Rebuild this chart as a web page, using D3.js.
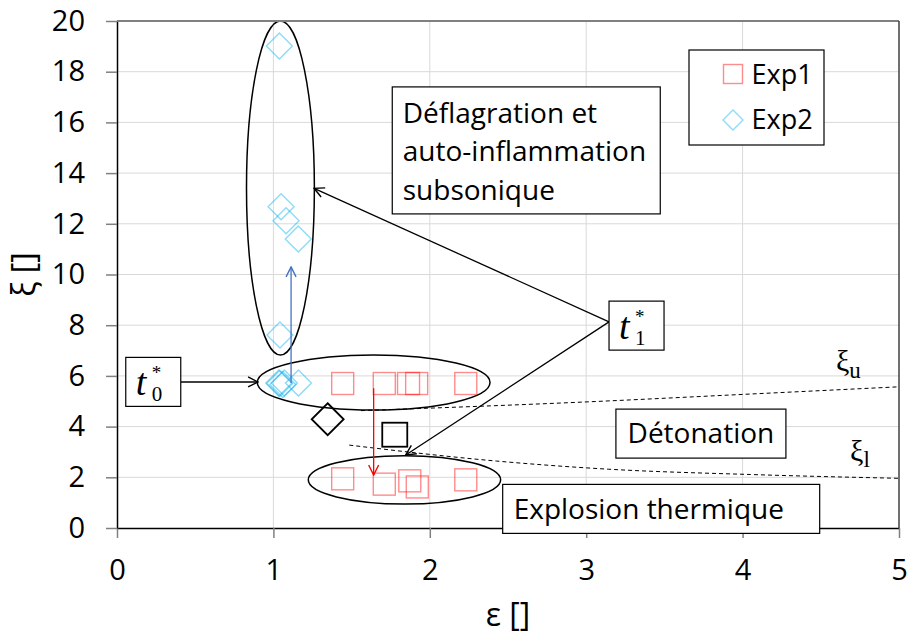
<!DOCTYPE html>
<html>
<head>
<meta charset="utf-8">
<script src="https://cdn.jsdelivr.net/npm/d3@7"></script>
<style>
  body { margin: 0; background: #fff; }
  svg { display: block; }
  text { font-family: "Open Sans", "Noto Sans", sans-serif; }
</style>
</head>
<body>
<svg id="chart" width="909" height="637"></svg>
<script>
// Axis ticks
const xTicks = [0, 1, 2, 3, 4, 5];
const yTicks = [0, 2, 4, 6, 8, 10, 12, 14, 16, 18, 20];

// Exp1 measurements (epsilon, xi)
const exp1Eps = [1.443, 1.709, 1.864, 1.916, 2.230, 1.443, 1.709, 1.872, 1.920, 2.230];
const exp1Xi  = [5.70, 5.70, 5.70, 5.70, 5.70, 1.94, 1.73, 1.86, 1.62, 1.90];

// Exp2 measurements (epsilon, xi)
const exp2Eps = [1.038, 1.049, 1.081, 1.159, 1.042, 1.035, 1.040, 1.060, 1.070, 1.160];
const exp2Xi  = [19.01, 12.67, 12.12, 11.40, 7.61, 5.72, 5.70, 5.66, 5.72, 5.72];

// Single reference markers
const refDiamondEps = [1.347], refDiamondXi = [4.29];
const refSquareEps  = [1.776], refSquareXi  = [3.68];

// Limit curves xi_u and xi_l
const xiUpperEps = [1.56, 3.024, 4.0, 5.0];
const xiUpperVal = [4.63, 4.98, 5.27, 5.57];
const xiLowerEps = [1.485, 2.428, 3.141, 4.05, 5.0];
const xiLowerVal = [3.27, 2.64, 2.32, 2.11, 1.96];

const x = d3.scaleLinear().domain([0, 5]).range([117, 899]);
const y = d3.scaleLinear().domain([0, 20]).range([528, 21]);

const svg = d3.select("#chart");
const defs = svg.append("defs");

function arrowMarker(id, color) {
  defs.append("marker")
    .attr("id", id)
    .attr("viewBox", "0 0 12 12")
    .attr("refX", 11).attr("refY", 6)
    .attr("markerWidth", 12).attr("markerHeight", 12)
    .attr("markerUnits", "userSpaceOnUse")
    .attr("orient", "auto")
    .append("path")
    .attr("d", "M1,1 L11,6 L1,11")
    .attr("fill", "none")
    .attr("stroke", color)
    .attr("stroke-width", 1.4);
}
arrowMarker("arrBlack", "#000");
arrowMarker("arrBlue", "#4472c4");
arrowMarker("arrRed", "#ff0000");

// Gridlines
const grid = svg.append("g");
grid.selectAll("line.h").data(yTicks.filter(d => d > 0 && d < 20)).join("line")
  .attr("x1", x(0)).attr("x2", x(5))
  .attr("y1", d => y(d)).attr("y2", d => y(d))
  .attr("stroke", "#d9d9d9").attr("stroke-width", 1);
grid.selectAll("line.v").data(xTicks.filter(d => d > 0 && d < 5)).join("line")
  .attr("x1", d => x(d)).attr("x2", d => x(d))
  .attr("y1", y(0)).attr("y2", y(20))
  .attr("stroke", "#d9d9d9").attr("stroke-width", 1);

// Limit curves
const limitLine = d3.line().x(d => x(d[0])).y(d => y(d[1])).curve(d3.curveMonotoneX);
svg.append("path")
  .attr("d", limitLine(d3.zip(xiUpperEps, xiUpperVal)))
  .attr("fill", "none").attr("stroke", "#000").attr("stroke-width", 1)
  .attr("stroke-dasharray", "4,3");
svg.append("path")
  .attr("d", limitLine(d3.zip(xiLowerEps, xiLowerVal)))
  .attr("fill", "none").attr("stroke", "#000").attr("stroke-width", 1)
  .attr("stroke-dasharray", "4,3");

// Regime ellipses (centre and radii in data units)
const ellipses = [
  { cx: 1.045, cy: 13.41, rx: 0.217, ry: 6.59 },
  { cx: 1.641, cy: 5.74, rx: 0.744, ry: 1.085 },
  { cx: 1.838, cy: 1.90, rx: 0.615, ry: 0.955 }
];
svg.append("g").selectAll("ellipse").data(ellipses).join("ellipse")
  .attr("cx", d => x(d.cx)).attr("cy", d => y(d.cy))
  .attr("rx", d => x(d.rx) - x(0)).attr("ry", d => y(0) - y(d.ry))
  .attr("fill", "none").attr("stroke", "#000").attr("stroke-width", 1.5);

// Markers
const sq = 22, dm = 13;
svg.append("g").selectAll("rect").data(d3.zip(exp1Eps, exp1Xi)).join("rect")
  .attr("x", d => x(d[0]) - sq / 2).attr("y", d => y(d[1]) - sq / 2)
  .attr("width", sq).attr("height", sq)
  .attr("fill", "none").attr("stroke", "#ff0000").attr("stroke-opacity", 0.45)
  .attr("stroke-width", 1.4);

const diamondPath = (cx, cy, r) => `M${cx},${cy - r}L${cx + r},${cy}L${cx},${cy + r}L${cx - r},${cy}Z`;
svg.append("g").selectAll("path").data(d3.zip(exp2Eps, exp2Xi)).join("path")
  .attr("d", d => diamondPath(x(d[0]), y(d[1]), dm))
  .attr("fill", "none").attr("stroke", "#00b0f0").attr("stroke-opacity", 0.45)
  .attr("stroke-width", 1.4);

svg.append("g").selectAll("path").data(d3.zip(refDiamondEps, refDiamondXi)).join("path")
  .attr("d", d => diamondPath(x(d[0]), y(d[1]), 16))
  .attr("fill", "none").attr("stroke", "#000").attr("stroke-width", 1.8);
svg.append("g").selectAll("rect").data(d3.zip(refSquareEps, refSquareXi)).join("rect")
  .attr("x", d => x(d[0]) - 12.5).attr("y", d => y(d[1]) - 12)
  .attr("width", 25).attr("height", 24)
  .attr("fill", "none").attr("stroke", "#000").attr("stroke-width", 1.8);

// Transition arrows
function arrow(x1, y1, x2, y2, color, marker, w) {
  svg.append("line")
    .attr("x1", x(x1)).attr("y1", y(y1)).attr("x2", x(x2)).attr("y2", y(y2))
    .attr("stroke", color).attr("stroke-width", w || 1.3)
    .attr("marker-end", `url(#${marker})`);
}
arrow(1.113, 5.72, 1.113, 10.3, "#4472c4", "arrBlue");
arrow(1.641, 5.51, 1.641, 2.09, "#ff0000", "arrRed");
arrow(3.146, 8.13, 1.26, 13.40, "#000", "arrBlack");
arrow(3.146, 8.13, 1.846, 2.88, "#000", "arrBlack");
arrow(0.407, 5.76, 0.902, 5.76, "#000", "arrBlack");

// Axes
const gx = svg.append("g").attr("transform", `translate(0,${y(0)})`)
  .call(d3.axisBottom(x).tickValues(xTicks).tickSize(10).tickSizeOuter(0).tickFormat(d3.format("d")));
gx.select(".domain").attr("stroke", "#000").attr("stroke-width", 1.5);
gx.selectAll(".tick line").attr("stroke", "#808080").attr("stroke-width", 1.5);
gx.selectAll(".tick text").attr("y", 52).attr("dy", null)
  .attr("font-size", 29).attr("fill", "#000")
  .style("font-family", "'Open Sans', sans-serif");

const gy = svg.append("g").attr("transform", `translate(${x(0)},0)`)
  .call(d3.axisLeft(y).tickValues(yTicks).tickSize(11).tickSizeOuter(0).tickPadding(21).tickFormat(d3.format("d")));
gy.select(".domain").attr("stroke", "#000").attr("stroke-width", 1.5);
gy.selectAll(".tick line").attr("stroke", "#808080").attr("stroke-width", 1.5);
gy.selectAll(".tick text").attr("font-size", 29).attr("fill", "#000")
  .style("font-family", "'Open Sans', sans-serif");

// Frame: top and right edges
svg.append("line").attr("x1", x(0)).attr("x2", x(5)).attr("y1", y(20)).attr("y2", y(20))
  .attr("stroke", "#808080").attr("stroke-width", 2);
svg.append("line").attr("x1", x(5)).attr("x2", x(5)).attr("y1", y(20)).attr("y2", y(0))
  .attr("stroke", "#404040").attr("stroke-width", 1.5);

// Axis titles
svg.append("text").attr("x", x(2.5)).attr("y", 626).attr("text-anchor", "middle")
  .attr("font-size", 32).text("ε []");
svg.append("text").attr("transform", `translate(35,${(y(0) + y(20)) / 2}) rotate(-90)`)
  .attr("text-anchor", "middle").attr("font-size", 32).text("ξ []");

// Text boxes (anchored at their top-left corner, in data units)
function textBox(ex, xi, w, h, lines, opts) {
  const bx = x(ex), by = y(xi);
  const g = svg.append("g");
  g.append("rect").attr("x", bx).attr("y", by).attr("width", w).attr("height", h)
    .attr("fill", "#fff").attr("stroke", "#000").attr("stroke-width", 1.2);
  lines.forEach((t, i) => {
    g.append("text")
      .attr("x", opts.center ? bx + w / 2 : bx + opts.pad)
      .attr("y", by + opts.first + i * (opts.lh || 0))
      .attr("text-anchor", opts.center ? "middle" : "start")
      .attr("font-size", opts.size).text(t);
  });
}
textBox(1.760, 17.40, 268, 127, ["Déflagration et", "auto-inflammation", "subsonique"],
  { pad: 10.5, first: 36, lh: 38.3, size: 28 });
textBox(3.190, 4.69, 170, 49, ["Détonation"], { center: true, first: 34.3, size: 28 });
textBox(2.466, 1.72, 317, 49, ["Explosion thermique"], { pad: 11, first: 34.3, size: 28 });

// Time labels t0*, t1* : italic t with stacked superscript star and subscript index
function timeBox(ex, xi, idx) {
  const bx = x(ex), by = y(xi);
  const g = svg.append("g");
  g.append("rect").attr("x", bx).attr("y", by).attr("width", 55).attr("height", 49)
    .attr("fill", "#fff").attr("stroke", "#000").attr("stroke-width", 1.2);
  const serif = "'Liberation Serif', 'DejaVu Serif', serif";
  g.append("text").attr("x", bx + 10).attr("y", by + 38)
    .style("font-family", serif).attr("font-style", "italic")
    .attr("font-size", 38).text("t");
  g.append("text").attr("x", bx + 26).attr("y", by + 21.5)
    .style("font-family", serif).attr("font-size", 19).text("*");
  g.append("text").attr("x", bx + 26).attr("y", by + 44)
    .style("font-family", serif).attr("font-size", 21).text(idx);
}
timeBox(0.056, 6.73, "0");
timeBox(3.146, 8.95, "1");

// Limit curve labels
function xiLabel(ex, xi, sub) {
  const t = svg.append("text").attr("x", x(ex)).attr("y", y(xi))
    .style("font-family", "'Liberation Serif', 'Times New Roman', serif")
    .attr("font-size", 30);
  t.append("tspan").text("ξ");
  t.append("tspan").attr("dy", 6.5).attr("font-size", 23).text(sub);
}
xiLabel(4.597, 6.19, "u");
xiLabel(4.687, 2.66, "l");

// Legend
const lg = svg.append("g");
lg.append("rect").attr("x", 689).attr("y", 50).attr("width", 135).attr("height", 95)
  .attr("fill", "#fff").attr("stroke", "#000").attr("stroke-width", 1.2);
lg.append("rect").attr("x", 723.5).attr("y", 64.5).attr("width", 19).attr("height", 19)
  .attr("fill", "none").attr("stroke", "#ff0000").attr("stroke-opacity", 0.45).attr("stroke-width", 1.4);
lg.append("path").attr("d", diamondPath(733, 120, 10))
  .attr("fill", "none").attr("stroke", "#00b0f0").attr("stroke-opacity", 0.45).attr("stroke-width", 1.4);
lg.append("text").attr("x", 751.5).attr("y", 83.5).attr("font-size", 27).text("Exp1");
lg.append("text").attr("x", 751.5).attr("y", 128.5).attr("font-size", 27).text("Exp2");
</script>
</body>
</html>
